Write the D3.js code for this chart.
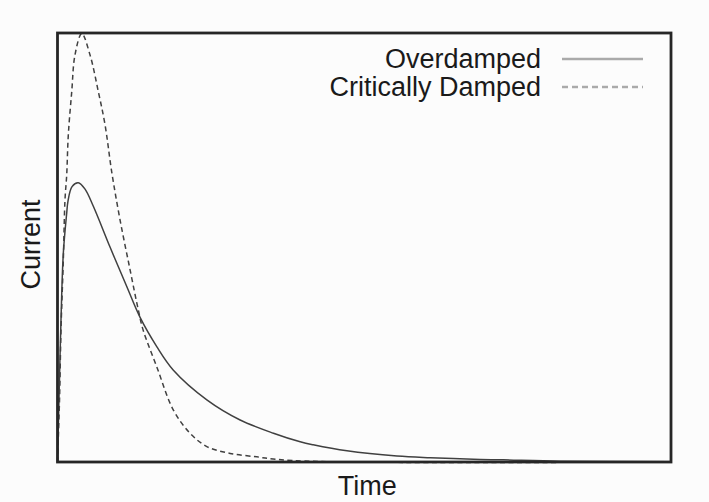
<!DOCTYPE html>
<html>
<head>
<meta charset="utf-8">
<script src="https://cdn.jsdelivr.net/npm/d3@7"></script>
<style>
    html, body { margin: 0; padding: 0; background: #fcfcfc; }
    svg { display: block; }
    text { font-family: "Liberation Sans", Arial, sans-serif; fill: #1a1a1a; }
</style>
</head>
<body>
<div class="chart"></div>
<script>
"use strict";

// time in % of the window, current relative to the critically damped peak
var overTime = [0, 0.24, 0.57, 0.95, 1.5, 1.71, 2.37, 3.39, 4.49, 5.84, 8.56, 11.29, 13.46, 16.18, 18.89,
                24.34, 29.77, 35.2, 39.56, 41.68, 47.18, 55.33, 60.77, 68.92, 72.68, 82, 100];
var overCurrent = [0, 0.145, 0.331, 0.487, 0.58, 0.608, 0.642, 0.651, 0.636, 0.596, 0.501, 0.409, 0.337, 0.269, 0.214,
                   0.145, 0.098, 0.067, 0.047, 0.04, 0.026, 0.014, 0.01, 0.006, 0.005, 0.002, 0.0005];

var critTime = [0, 0.33, 0.57, 0.95, 1.22, 1.5, 1.76, 2.32, 2.85, 3.95, 5.3, 6.66, 7.75, 8.84, 10.2, 11.83,
                13.18, 13.95, 16.18, 18.89, 21.62, 24.34, 28.14, 32.5, 35.15, 42.8, 100];
var critCurrent = [0, 0.145, 0.308, 0.471, 0.611, 0.669, 0.762, 0.863, 0.949, 0.999, 0.949, 0.863, 0.786, 0.676, 0.564, 0.448,
                   0.354, 0.308, 0.222, 0.121, 0.067, 0.036, 0.02, 0.012, 0.007, 0.001, 0];

var seriesNames = ["Overdamped", "Critically Damped"];
var xLabel = "Time";
var yLabel = "Current";

(function renderChart() {
    var width = 709;
    var height = 502;
    var plotLeft = 57.5, plotRight = 671, plotTop = 33, plotBottom = 462;

    var svg = d3.select(".chart")
                .append("svg")
                .attr("width", width)
                .attr("height", height);

    var x = d3.scaleLinear().domain([0, 100]).range([plotLeft, plotRight]);
    var y = d3.scaleLinear().domain([0, 1]).range([plotBottom, plotTop]);

    var toPoints = function(times, values) {
        return times.map(function(t, i) {
            return [t, values[i]];
        });
    };

    var series = [
        { name: seriesNames[0], points: toPoints(overTime, overCurrent), dash: null },
        { name: seriesNames[1], points: toPoints(critTime, critCurrent), dash: "5,3.5" }
    ];

    var line = d3.line()
                .x(function(d) { return x(d[0]); })
                .y(function(d) { return y(d[1]); })
                .curve(d3.curveCatmullRom.alpha(0.5));

    svg.selectAll("path.curve")
        .data(series)
        .enter()
        .append("path")
        .attr("class", "curve")
        .attr("d", function(d) { return line(d.points); })
        .attr("fill", "none")
        .attr("stroke", "#404040")
        .attr("stroke-width", 1.5)
        .attr("stroke-dasharray", function(d) { return d.dash; });

    // frame
    svg.append("rect")
        .attr("x", x(0))
        .attr("y", y(1))
        .attr("width", x(100) - x(0))
        .attr("height", y(0) - y(1))
        .attr("fill", "none")
        .attr("stroke", "#262626")
        .attr("stroke-width", 2.8);

    // legend
    var legend = svg.selectAll("g.legend")
                    .data(series)
                    .enter()
                    .append("g")
                    .attr("class", "legend")
                    .attr("transform", function(d, i) {
                        return "translate(0," + (59 + 28 * i) + ")";
                    });

    legend.append("text")
        .attr("x", 541)
        .attr("y", 9)
        .attr("text-anchor", "end")
        .attr("font-size", 27)
        .text(function(d) { return d.name; });

    legend.append("line")
        .attr("x1", 562)
        .attr("x2", 643)
        .attr("stroke", "#aaaaaa")
        .attr("stroke-width", 2.4)
        .attr("stroke-dasharray", function(d) { return d.dash ? "6,4" : null; });

    svg.append("text")
        .attr("x", (plotLeft + plotRight) / 2 + 3)
        .attr("y", 495)
        .attr("text-anchor", "middle")
        .attr("font-size", 27)
        .text(xLabel);

    svg.append("text")
        .attr("transform", "translate(40," + ((plotTop + plotBottom) / 2 - 3) + ") rotate(-90)")
        .attr("text-anchor", "middle")
        .attr("font-size", 27)
        .text(yLabel);
})();
</script>
</body>
</html>
